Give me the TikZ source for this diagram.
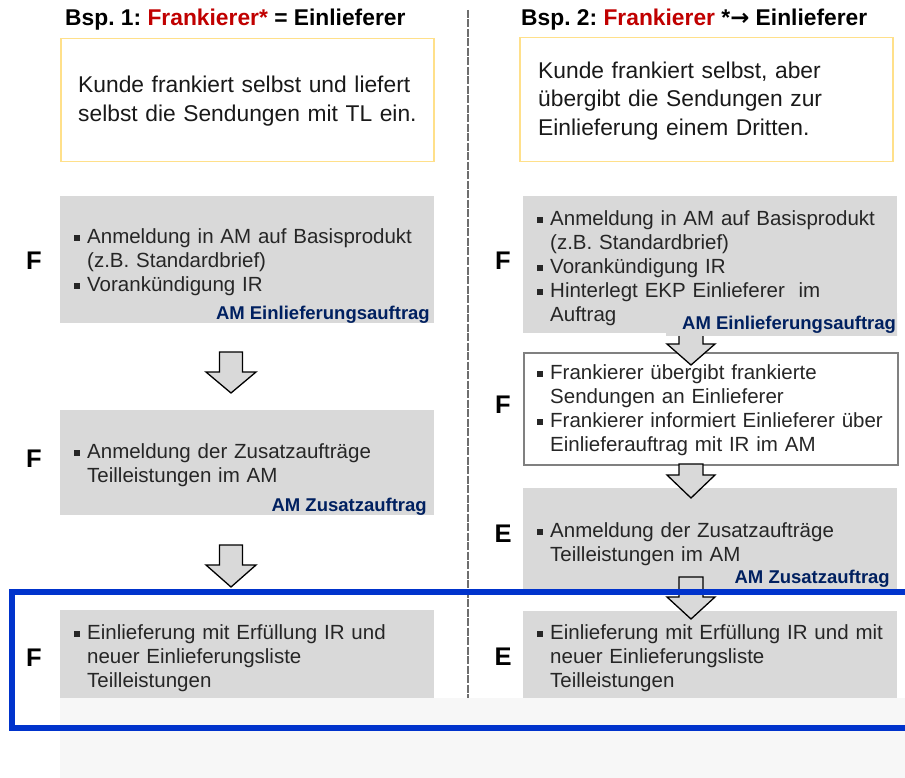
\documentclass[tikz,border=0pt]{standalone}
\usepackage{fontspec}
\setmainfont{Liberation Sans}
\newfontfamily\arrowfont{DejaVu Sans}

\definecolor{boxgray}{HTML}{D9D9D9}
\definecolor{footgray}{HTML}{F7F7F7}
\definecolor{notered}{HTML}{C00000}
\definecolor{amnavy}{HTML}{002060}
\definecolor{frameblue}{HTML}{0033CC}
\definecolor{noteyellow}{HTML}{FFE08A}
\definecolor{dashgray}{HTML}{6E6E6E}

% bullet item with hanging indent
\newcommand{\bitem}[1]{\noindent\hangindent=13pt\hangafter=1\makebox[13pt][l]{\rule[2.6pt]{5.5pt}{5.5pt}}#1\par}

\begin{document}
\frenchspacing
\begin{tikzpicture}[x=1pt, y=-1pt,
    graybox/.style={fill=boxgray, inner sep=0pt, outer sep=0pt, anchor=north west},
    notebox/.style={draw=noteyellow, line width=1.5pt, fill=white, inner sep=0pt, anchor=north west},
    whitebox/.style={draw=gray, line width=1.8pt, fill=white, inner sep=0pt, anchor=north west},
    bodytext/.style={anchor=north west, inner sep=0pt, text width=380pt, align=left, text=black!85, font=\fontsize{20.5}{24}\selectfont},
    notetext/.style={anchor=north west, inner sep=0pt, text width=360pt, align=left, text=black!90, font=\fontsize{22.8}{29}\selectfont},
    titletext/.style={anchor=base west, inner sep=0pt, font=\bfseries\fontsize{22.8}{27}\selectfont},
    rolelabel/.style={inner sep=0pt, font=\bfseries\fontsize{25.5}{30}\selectfont},
    amlabel/.style={inner sep=0pt, text=amnavy, font=\bfseries\fontsize{18.5}{22}\selectfont},
    blockarrow/.style={draw=black, line width=1.3pt, fill=boxgray, line join=miter},
    divider/.style={draw=dashgray, line width=2.2pt, dash pattern=on 8pt off 1.5pt},
    focusframe/.style={draw=frameblue, line width=6pt}]

    \useasboundingbox (0,0) rectangle (905,778);

    % light footer strip at the bottom
    \fill[footgray] (60,698) rectangle (905,778);

    % dashed divider between the two examples
    \draw[divider] (468,10) -- (468,698);

    % headings
    \node[titletext] (title1) at (65,26) {Bsp. 1: \textcolor{notered}{Frankierer*} = Einlieferer};
    \node[titletext] (title2) at (521,26) {Bsp. 2: \textcolor{notered}{Frankierer} *{\arrowfont →} Einlieferer};

    % yellow description boxes
    \node[notebox, minimum width=373pt, minimum height=123pt] (note1) at (60,38) {};
    \node[notetext] (note1txt) at (78,75.6) {Kunde frankiert selbst und liefert\\selbst die Sendungen mit TL ein.};
    \node[notebox, minimum width=373pt, minimum height=124pt] (note2) at (519,37) {};
    \node[notetext, font=\fontsize{22.8}{28.5}\selectfont] (note2txt) at (538,61.6) {Kunde frankiert selbst, aber\\übergibt die Sendungen zur\\Einlieferung einem Dritten.};

    % step boxes, left column
    \node[graybox, minimum width=374pt, minimum height=127pt] (stepA1) at (60,196) {};
    \node[graybox, minimum width=374pt, minimum height=105pt] (stepA2) at (60,410) {};
    \node[graybox, minimum width=374pt, minimum height=88pt] (stepA3) at (60,610) {};

    % step boxes, right column
    \node[graybox, minimum width=374pt, minimum height=137pt] (stepB1) at (523,196) {};
    \node[whitebox, minimum width=374pt, minimum height=112pt] (stepB2) at (523,352) {};
    \node[graybox, minimum width=374pt, minimum height=102pt] (stepB3) at (523,488) {};
    \node[graybox, minimum width=374pt, minimum height=87pt] (stepB4) at (523,611) {};

    % block arrows, left column
    \coordinate (arA1) at (231,352);
    \coordinate (arA2) at (231,545);
    \draw[blockarrow] (arA1) ++(-11.5,0) -- ++(23,0) -- ++(0,20) -- ++(13.5,0) -- ++(-25,21) -- ++(-25,-21) -- ++(13.5,0) -- cycle;
    \draw[blockarrow] (arA2) ++(-11.5,0) -- ++(23,0) -- ++(0,20) -- ++(13.5,0) -- ++(-25,22) -- ++(-25,-22) -- ++(13.5,0) -- cycle;

    % block arrows, right column
    \coordinate (arB1) at (691,330);
    \coordinate (arB2) at (691,464);
    \coordinate (arB3) at (691,577);
    \draw[blockarrow] (arB1) ++(-12,0) -- ++(24,0) -- ++(0,14) -- ++(12,0) -- ++(-24,21) -- ++(-24,-21) -- ++(12,0) -- cycle;
    \draw[blockarrow] (arB2) ++(-12,0) -- ++(24,0) -- ++(0,11) -- ++(12,0) -- ++(-24,23) -- ++(-24,-23) -- ++(12,0) -- cycle;
    \draw[blockarrow] (arB3) ++(-12,0) -- ++(24,0) -- ++(0,20) -- ++(12,0) -- ++(-24,22) -- ++(-24,-22) -- ++(12,0) -- cycle;

    % order labels
    \node[amlabel, anchor=base east] (amA1) at (430,319) {AM Einlieferungsauftrag};
    \node[amlabel, anchor=base east] (amA2) at (427,511) {AM Zusatzauftrag};
    \begin{scope}
        \clip (523,300) rectangle (897,340);
        \node[amlabel, fill=boxgray, inner xsep=16pt, inner ysep=3pt, anchor=base west] (amB1) at (666,329) {AM Einlieferungsauftrag};
    \end{scope}
    \node[amlabel, anchor=base east] (amB3) at (890,583) {AM Zusatzauftrag};

    % who does the step
    \node[rolelabel] (roleA1) at (34,260.5) {F};
    \node[rolelabel] (roleA2) at (34,458.5) {F};
    \node[rolelabel] (roleA3) at (34,657.5) {F};
    \node[rolelabel] (roleB1) at (503,260.5) {F};
    \node[rolelabel] (roleB2) at (503,404.5) {F};
    \node[rolelabel] (roleB3) at (503,534) {E};
    \node[rolelabel] (roleB4) at (503,657) {E};

    % step texts, left column
    \node[bodytext] (txtA1) at (74,228.2) {\bitem{Anmeldung in AM auf Basisprodukt\newline(z.B. Standardbrief)}\bitem{Vorankündigung IR}};
    \node[bodytext] (txtA2) at (74,443.2) {\bitem{Anmeldung der Zusatzaufträge\newline Teilleistungen im AM}};
    \node[bodytext] (txtA3) at (74,624.2) {\bitem{Einlieferung mit Erfüllung IR und\newline neuer Einlieferungsliste\newline Teilleistungen}};

    % step texts, right column
    \node[bodytext] (txtB1) at (537,210.2) {\bitem{Anmeldung in AM auf Basisprodukt\newline(z.B. Standardbrief)}\bitem{Vorankündigung IR}\bitem{Hinterlegt EKP Einlieferer\ \ im\newline Auftrag}};
    \node[bodytext] (txtB2) at (537,364.2) {\bitem{Frankierer übergibt frankierte\newline Sendungen an Einlieferer}\bitem{Frankierer informiert Einlieferer über\newline Einlieferauftrag mit IR im AM}};
    \node[bodytext] (txtB3) at (537,522.2) {\bitem{Anmeldung der Zusatzaufträge\newline Teilleistungen im AM}};
    \node[bodytext] (txtB4) at (537,624.2) {\bitem{Einlieferung mit Erfüllung IR und mit\newline neuer Einlieferungsliste\newline Teilleistungen}};

    % blue frame round the last step
    \draw[focusframe] (12,592) rectangle (915,728);

\end{tikzpicture}
\end{document}
